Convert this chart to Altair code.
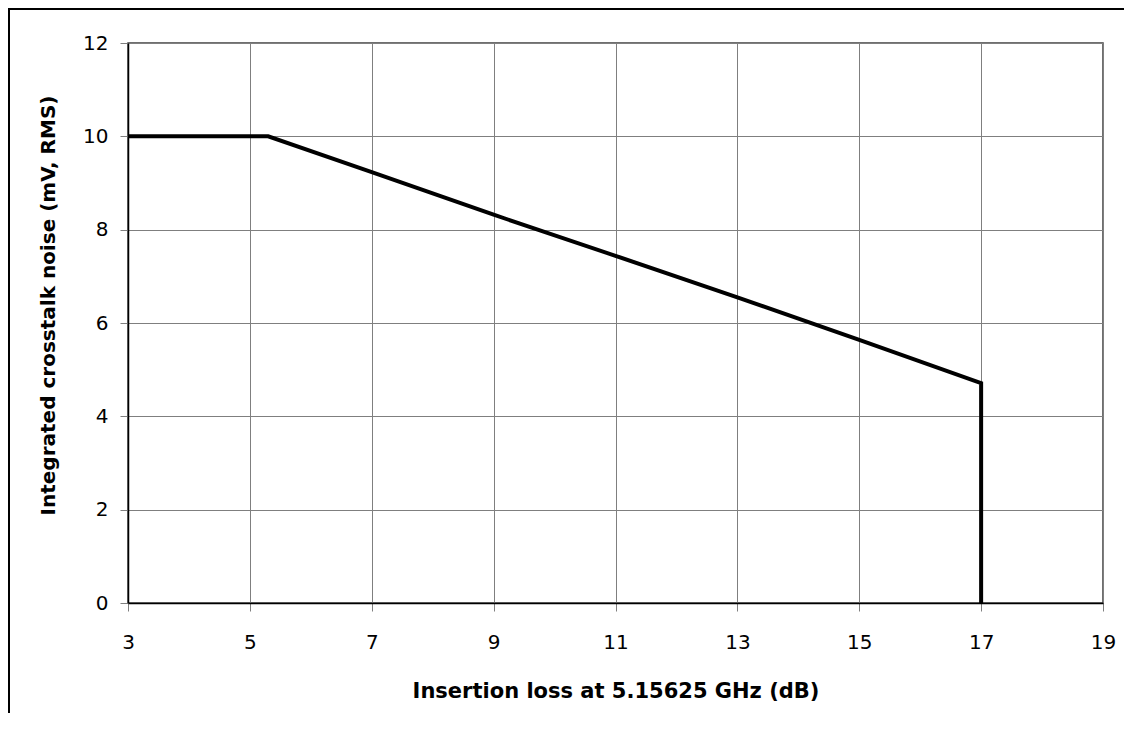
import altair as alt
import pandas as pd

# Data
insertion_loss = [3, 5.3, 7, 9, 11, 13, 15, 17, 17]
crosstalk_mv = [10, 10, 9.235, 8.32, 7.44, 6.55, 5.64, 4.71, 0]
x_ticks = [3, 5, 7, 9, 11, 13, 15, 17, 19]
y_ticks = [0, 2, 4, 6, 8, 10, 12]

df = pd.DataFrame({
    "order": list(range(len(insertion_loss))),
    "il": insertion_loss,
    "icn": crosstalk_mv,
})

W, H = 975, 560
PAD_L, PAD_T, PAD_R, PAD_B = 120, 35, 21, 110
FONT = "DejaVu Sans"

line = alt.Chart(df).mark_line(color="black", strokeWidth=4, strokeJoin="miter", clip=False).encode(
    x=alt.X("il:Q",
            scale=alt.Scale(domain=[3, 19], nice=False, zero=False),
            axis=alt.Axis(values=x_ticks, title="Insertion loss at 5.15625 GHz (dB)",
                          titleY=94, titleBaseline="alphabetic", titleFontSize=21)),
    y=alt.Y("icn:Q",
            scale=alt.Scale(domain=[0, 12], nice=False),
            axis=alt.Axis(values=y_ticks, title="Integrated crosstalk noise (mV, RMS)",
                          titleX=-74, titleY=262, titleBaseline="alphabetic", titleAngle=-90,
                          titleAlign="center", titleFontSize=20)),
    order="order:Q",
)

# Outer frame (left and top only, as in the reference)
frame_left = alt.Chart(df).mark_rule(color="black", strokeWidth=2).encode(
    x=alt.value(-PAD_L + 1), y=alt.value(-PAD_T), y2=alt.value(H + PAD_B)
)
frame_top = alt.Chart(df).mark_rule(color="black", strokeWidth=2).encode(
    y=alt.value(-PAD_T + 1), x=alt.value(-PAD_L), x2=alt.value(W + PAD_R)
)

chart = alt.layer(frame_left, frame_top, line).properties(
    width=W, height=H,
    background="white",
    padding={"left": PAD_L, "top": PAD_T, "right": PAD_R, "bottom": PAD_B},
    autosize=alt.AutoSizeParams(type="none"),
).configure_view(
    stroke="#404040", strokeWidth=1.5
).configure_axis(
    grid=True, gridColor="#7f7f7f", gridWidth=1, gridOpacity=1,
    domainColor="black", domainWidth=1.5,
    tickColor="#7f7f7f", tickSize=8, tickWidth=1,
    labelFont=FONT, labelFontSize=20, labelColor="black",
    titleFont=FONT, titleFontWeight="bold", titleColor="black",
).configure_axisX(
    labelPadding=21, labelFlush=False
).configure_axisY(
    labelPadding=12
)

chart.save("out.html", embed_options={"renderer": "svg", "actions": False})
